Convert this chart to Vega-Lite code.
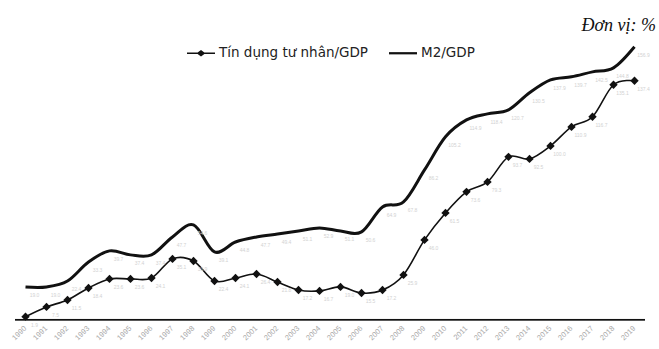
{
  "$schema": "https://vega.github.io/schema/vega-lite/v6.json",
  "width": 630,
  "height": 296,
  "autosize": {"type": "none"},
  "padding": {"left": 15, "top": 24, "right": 14, "bottom": 29},
  "background": "white",
  "title": {
    "text": "Đơn vị: %",
    "anchor": "end",
    "frame": "group",
    "orient": "top",
    "offset": -25,
    "dx": 11,
    "baseline": "alphabetic",
    "font": "Liberation Serif",
    "fontStyle": "italic",
    "fontWeight": "normal",
    "fontSize": 18,
    "color": "#111"
  },
  "data": {
    "values": [
      {"year": "1990", "series": "Tín dụng tư nhân/GDP", "value": 1.9},
      {"year": "1991", "series": "Tín dụng tư nhân/GDP", "value": 7.5},
      {"year": "1992", "series": "Tín dụng tư nhân/GDP", "value": 11.5},
      {"year": "1993", "series": "Tín dụng tư nhân/GDP", "value": 18.4},
      {"year": "1994", "series": "Tín dụng tư nhân/GDP", "value": 23.6},
      {"year": "1995", "series": "Tín dụng tư nhân/GDP", "value": 23.6},
      {"year": "1996", "series": "Tín dụng tư nhân/GDP", "value": 24.1},
      {"year": "1997", "series": "Tín dụng tư nhân/GDP", "value": 35.1},
      {"year": "1998", "series": "Tín dụng tư nhân/GDP", "value": 33.9},
      {"year": "1999", "series": "Tín dụng tư nhân/GDP", "value": 22.4},
      {"year": "2000", "series": "Tín dụng tư nhân/GDP", "value": 24.1},
      {"year": "2001", "series": "Tín dụng tư nhân/GDP", "value": 26.4},
      {"year": "2002", "series": "Tín dụng tư nhân/GDP", "value": 21.8},
      {"year": "2003", "series": "Tín dụng tư nhân/GDP", "value": 17.2},
      {"year": "2004", "series": "Tín dụng tư nhân/GDP", "value": 16.7},
      {"year": "2005", "series": "Tín dụng tư nhân/GDP", "value": 19.0},
      {"year": "2006", "series": "Tín dụng tư nhân/GDP", "value": 15.5},
      {"year": "2007", "series": "Tín dụng tư nhân/GDP", "value": 17.2},
      {"year": "2008", "series": "Tín dụng tư nhân/GDP", "value": 25.9},
      {"year": "2009", "series": "Tín dụng tư nhân/GDP", "value": 46.0},
      {"year": "2010", "series": "Tín dụng tư nhân/GDP", "value": 61.5},
      {"year": "2011", "series": "Tín dụng tư nhân/GDP", "value": 73.6},
      {"year": "2012", "series": "Tín dụng tư nhân/GDP", "value": 79.3},
      {"year": "2013", "series": "Tín dụng tư nhân/GDP", "value": 93.7},
      {"year": "2014", "series": "Tín dụng tư nhân/GDP", "value": 92.5},
      {"year": "2015", "series": "Tín dụng tư nhân/GDP", "value": 100.0},
      {"year": "2016", "series": "Tín dụng tư nhân/GDP", "value": 110.9},
      {"year": "2017", "series": "Tín dụng tư nhân/GDP", "value": 116.7},
      {"year": "2018", "series": "Tín dụng tư nhân/GDP", "value": 135.1},
      {"year": "2019", "series": "Tín dụng tư nhân/GDP", "value": 137.4},
      {"year": "1990", "series": "M2/GDP", "value": 19.0},
      {"year": "1991", "series": "M2/GDP", "value": 19.0},
      {"year": "1992", "series": "M2/GDP", "value": 22.4},
      {"year": "1993", "series": "M2/GDP", "value": 33.3},
      {"year": "1994", "series": "M2/GDP", "value": 39.7},
      {"year": "1995", "series": "M2/GDP", "value": 37.4},
      {"year": "1996", "series": "M2/GDP", "value": 37.4},
      {"year": "1997", "series": "M2/GDP", "value": 47.7},
      {"year": "1998", "series": "M2/GDP", "value": 54.6},
      {"year": "1999", "series": "M2/GDP", "value": 39.1},
      {"year": "2000", "series": "M2/GDP", "value": 44.8},
      {"year": "2001", "series": "M2/GDP", "value": 47.7},
      {"year": "2002", "series": "M2/GDP", "value": 49.4},
      {"year": "2003", "series": "M2/GDP", "value": 51.1},
      {"year": "2004", "series": "M2/GDP", "value": 52.9},
      {"year": "2005", "series": "M2/GDP", "value": 51.1},
      {"year": "2006", "series": "M2/GDP", "value": 50.6},
      {"year": "2007", "series": "M2/GDP", "value": 64.9},
      {"year": "2008", "series": "M2/GDP", "value": 67.8},
      {"year": "2009", "series": "M2/GDP", "value": 86.2},
      {"year": "2010", "series": "M2/GDP", "value": 105.2},
      {"year": "2011", "series": "M2/GDP", "value": 114.9},
      {"year": "2012", "series": "M2/GDP", "value": 118.4},
      {"year": "2013", "series": "M2/GDP", "value": 120.7},
      {"year": "2014", "series": "M2/GDP", "value": 130.5},
      {"year": "2015", "series": "M2/GDP", "value": 137.9},
      {"year": "2016", "series": "M2/GDP", "value": 139.7},
      {"year": "2017", "series": "M2/GDP", "value": 142.5},
      {"year": "2018", "series": "M2/GDP", "value": 144.8},
      {"year": "2019", "series": "M2/GDP", "value": 156.9}
    ]
  },
  "encoding": {
    "x": {
      "field": "year",
      "type": "ordinal",
      "scale": {"type": "band", "paddingInner": 0, "paddingOuter": 0},
      "axis": {
        "title": null,
        "domain": false,
        "ticks": false,
        "labelAngle": -45,
        "labelAlign": "right",
        "labelBaseline": "middle",
        "labelPadding": 7,
        "labelFontSize": 7.5,
        "labelFont": "Liberation Sans",
        "labelColor": "#a8a8a8",
        "grid": false
      }
    },
    "y": {
      "field": "value",
      "type": "quantitative",
      "scale": {"domain": [0, 170], "nice": false, "zero": true},
      "axis": null
    }
  },
  "layer": [
    {
      "transform": [{"filter": "datum.series === 'M2/GDP'"}],
      "mark": {"type": "line", "interpolate": "cardinal", "color": "#111", "strokeWidth": 3}
    },
    {
      "transform": [{"filter": "datum.series === 'Tín dụng tư nhân/GDP'"}],
      "mark": {"type": "line", "interpolate": "cardinal", "color": "#111", "strokeWidth": 1.6}
    },
    {
      "transform": [{"filter": "datum.series === 'Tín dụng tư nhân/GDP'"}],
      "mark": {"type": "point", "shape": "diamond", "filled": true, "color": "#111", "size": 70, "opacity": 1}
    },
    {
      "mark": {"type": "text", "fontSize": 5, "color": "#d2d2d2", "dx": 9, "dy": 8, "font": "Liberation Sans"},
      "encoding": {
        "text": {"field": "value", "type": "quantitative", "format": ".1f"}
      }
    },
    {
      "mark": {"type": "point", "filled": true, "color": "#111", "opacity": 0},
      "encoding": {
        "shape": {
          "field": "series",
          "type": "nominal",
          "sort": ["Tín dụng tư nhân/GDP", "M2/GDP"],
          "scale": {
            "domain": ["Tín dụng tư nhân/GDP", "M2/GDP"],
            "range": [
              "M-1,-0.06H-0.24L0,-0.24L0.24,-0.06H1V0.06H0.24L0,0.24L-0.24,0.06H-1Z",
              "M-1,-0.08H1V0.08H-1Z"
            ]
          },
          "legend": {
            "orient": "none",
            "legendX": 172,
            "legendY": 15,
            "direction": "horizontal",
            "title": null,
            "padding": 0,
            "symbolSize": 784,
            "symbolOpacity": 1,
            "symbolFillColor": "#111",
            "symbolStrokeWidth": 0,
            "labelFont": "DejaVu Sans",
            "labelFontSize": 13.5,
            "labelColor": "#222",
            "labelOffset": 4,
            "columnPadding": 20,
            "labelLimit": 300
          }
        }
      }
    },
    {
      "transform": [{"filter": "datum.series === 'M2/GDP'"}],
      "mark": {"type": "bar", "color": "#111", "opacity": 1, "fillOpacity": 1, "binSpacing": 0},
      "encoding": {
        "y": {"datum": -0.4, "type": "quantitative"},
        "y2": {"datum": 0.6}
      }
    }
  ],
  "config": {
    "view": {"stroke": null}
  }
}
